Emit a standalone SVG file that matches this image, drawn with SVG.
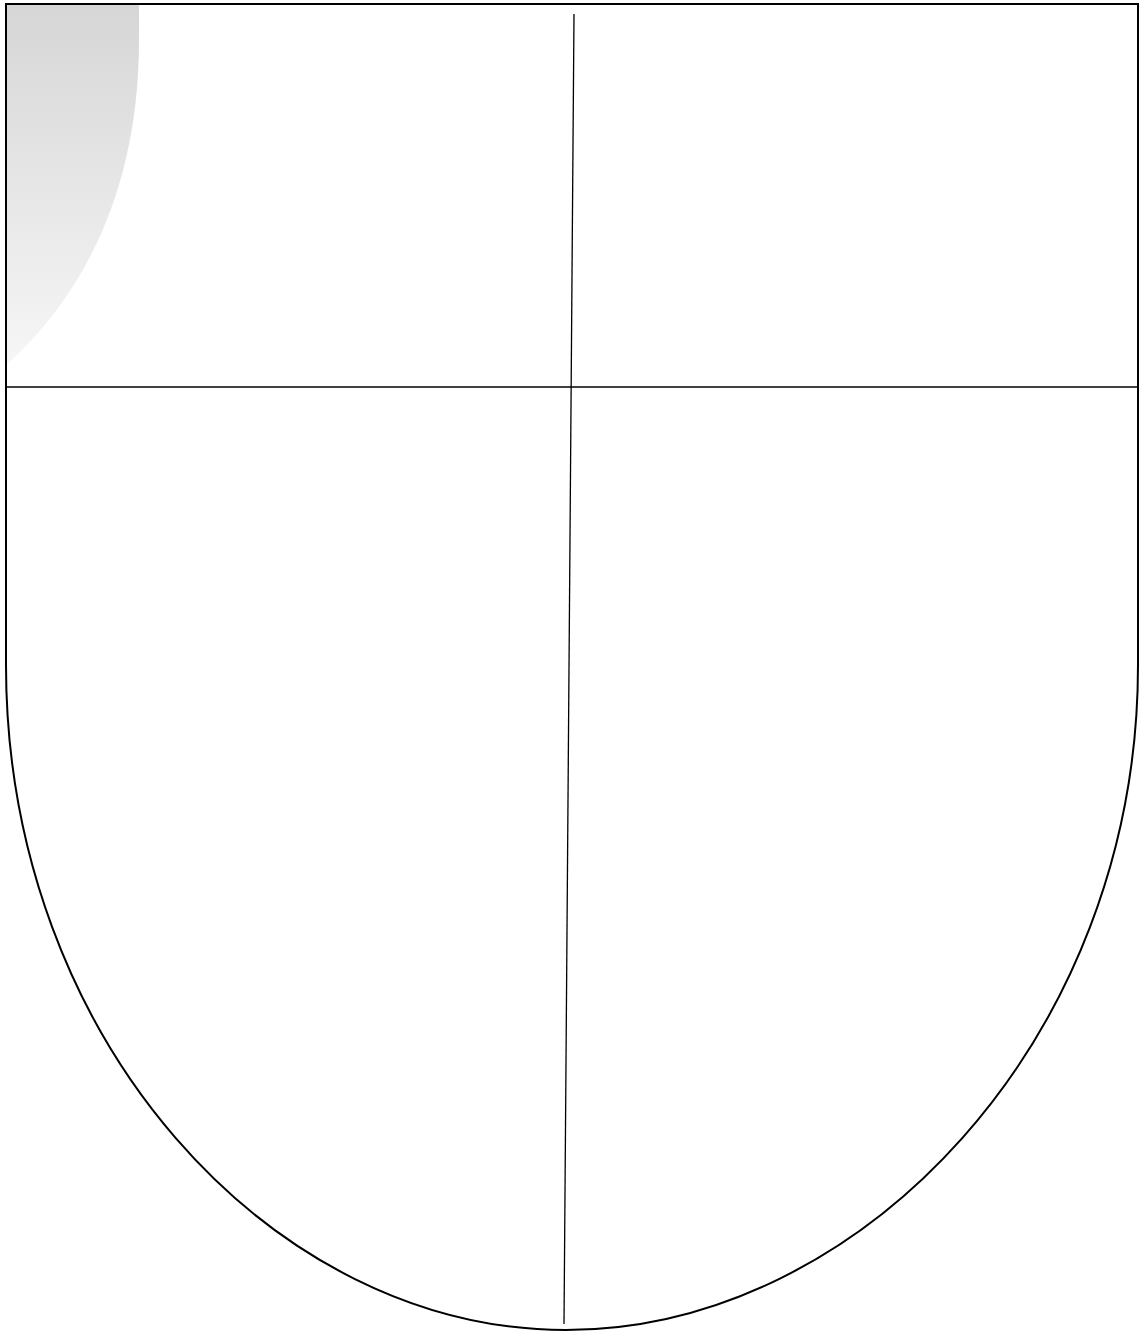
<svg xmlns="http://www.w3.org/2000/svg" width="1146" height="1334" viewBox="0 0 1146 1334">
<defs>
<linearGradient id="g" x1="0" y1="0" x2="0" y2="1">
<stop offset="0" stop-color="#d6d6d6"/>
<stop offset="1" stop-color="#f6f6f6"/>
</linearGradient>
<style>.ln{fill:none;stroke:#000;}</style>
</defs>
<rect width="1146" height="1334" fill="#fff"/>
<g id="shield">
<path d="M6,4 H139 V40 C139,180 90,290 6,365 Z" fill="url(#g)"/>
<path class="ln" stroke-width="2" d="M6,4 H1138 V665 C1138,1040 860,1330 566,1330 C272,1330 6,1040 6,665 Z"/>
</g>
<g id="connectors">
<line class="ln" stroke-width="1.6" x1="6" y1="387" x2="1138" y2="387"/>
<line class="ln" stroke-width="1.3" x1="574" y1="14" x2="564" y2="1324"/>
</g>
</svg>
